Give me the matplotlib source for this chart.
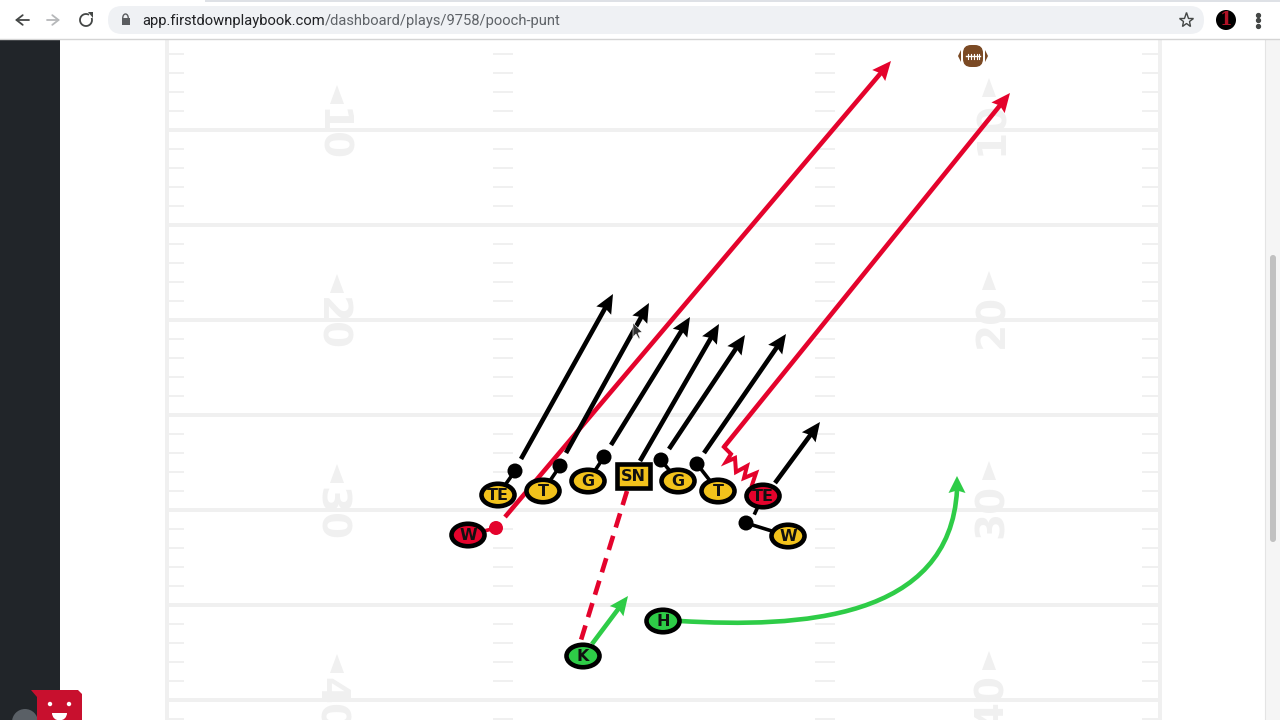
import numpy as np
import matplotlib
matplotlib.use("Agg")
import matplotlib.pyplot as plt
from matplotlib.patches import Ellipse, Rectangle, FancyBboxPatch, Polygon, Circle, Wedge, PathPatch, Arc
from matplotlib.path import Path

# ---- data (in screen pixels) ----
yard_lines = [130, 225, 320, 415, 510, 605, 700]
hash_offsets = [-38, -19, 19, 38]
hash_columns = [(168, 184), (493, 513), (815, 835), (1142, 1158)]
left_number_rows = [135, 324, 514, 704]
right_number_rows = [128, 321, 511, 701]
number_labels = ["10", "20", "30", "40"]

players = ["TE", "T", "G", "G", "T", "TE", "W", "W", "K", "H"]
player_x = [498, 543, 588, 678, 718, 763, 468, 788, 583, 663]
player_y = [495, 491, 481, 481, 491, 496, 535, 536, 656, 621]
player_col = ["y", "y", "y", "y", "y", "r", "r", "y", "g", "g"]
snapper = ("SN", 633, 476)

block_from = [(498, 495), (543, 491), (588, 481), (678, 481), (718, 491), (788, 536)]
block_dots = [(515, 471), (560, 466), (604, 457), (661, 460), (697, 464), (746, 523)]

black_routes = [
    ((521, 459), (613, 294)),
    ((566, 453), (649, 303)),
    ((611, 445), (690, 317)),
    ((640, 461), (719, 324)),
    ((669, 449), (745, 335)),
    ((704, 453), (786, 334)),
    ((775, 483), (820, 422)),
]
red_route_w = ((505, 517), (891, 61))
red_zig_x = [752, 756, 744, 747, 736, 735, 726, 731, 724]
red_zig_y = [485, 473, 478, 466, 472, 458, 462, 454, 447]
red_route_te = ((724, 447), (1010, 93))
kick_line = ((627, 491), (581, 640))
green_short = ((592, 644), (628, 596))
green_curve_ctrl = [(680, 621), (800, 628), (950, 620), (957, 490)]
green_curve_tip = (957, 476)

url_main = "app.firstdownplaybook.com"
url_rest = "/dashboard/plays/9758/pooch-punt"

# ---- styles ----
RED = "#e4032c"
YEL = "#f2c21b"
GRN = "#2ecc47"
FIELD = "#f0f0f0"
fills = {"y": YEL, "r": RED, "g": GRN}
PX = 0.72

fig = plt.figure(figsize=(12.8, 7.2), dpi=100, facecolor="white")
ax = fig.add_axes([0, 0, 1, 1])
ax.set_xlim(0, 1280)
ax.set_ylim(720, 0)
ax.axis("off")


def route(a, b, color, lw=4.6, z=5, head=(19, 8.5)):
    a, b = np.array(a, float), np.array(b, float)
    u = (b - a) / np.hypot(*(b - a))
    n = np.array([-u[1], u[0]])
    L, W = head
    base = b - u * L
    stop = b - u * L * .7
    ax.plot([a[0], stop[0]], [a[1], stop[1]], color=color,
            lw=lw * PX, zorder=z, solid_capstyle="butt")
    ax.add_patch(Polygon([b, base + n * W, b - u * L * .85, base - n * W], closed=True,
                         fc=color, ec="none", zorder=z))


# field
for y in yard_lines:
    ax.plot([165, 1161], [y, y], color=FIELD, lw=4 * PX, zorder=1, solid_capstyle="butt")
for x in (166.5, 1159.5):
    ax.plot([x, x], [39, 720], color=FIELD, lw=4 * PX, zorder=1, solid_capstyle="butt")
for x0, x1 in hash_columns:
    for yl in [35] + yard_lines:
        for off in hash_offsets:
            y = yl + off
            if 39 < y < 720:
                ax.plot([x0, x1], [y, y], color=FIELD, lw=2 * PX, zorder=1, solid_capstyle="butt")
for yl_, yr_, lab in zip(left_number_rows, right_number_rows, number_labels):
    ax.text(330, yl_, lab, rotation=-90, ha="center", va="center", color=FIELD,
            fontsize=28, family="DejaVu Sans", weight="bold", zorder=1)
    ax.text(992, yr_, lab, rotation=90, ha="center", va="center", color=FIELD,
            fontsize=28, family="DejaVu Sans", weight="bold", zorder=1)
    for x_, y_ in ((337, yl_), (989, yr_)):
        ax.add_patch(Polygon([(x_, y_ - 50), (x_ - 7, y_ - 31), (x_ + 7, y_ - 31)], fc=FIELD, ec="none", zorder=1))

# page panels
ax.add_patch(Rectangle((0, 39), 60, 681, fc="#212529", ec="none", zorder=2))
ax.add_patch(Rectangle((1265, 39), 15, 681, fc="#f5f5f5", ec="none", zorder=2))
ax.plot([1265, 1265], [39, 720], color="#e4e4e4", lw=0.8, zorder=2)
ax.add_patch(FancyBboxPatch((1270, 255), 6, 287, boxstyle="round,pad=0,rounding_size=3",
                            fc="#c1c1c1", ec="none", zorder=3))

# routes
route(*red_route_w, RED, z=4)
route(*red_route_te, RED, z=4)
ax.plot(red_zig_x, red_zig_y, color=RED, lw=4 * PX, zorder=4, solid_joinstyle="miter")
ax.plot(*zip(*kick_line), color=RED, lw=4.6 * PX, zorder=4, dashes=(3.2, 1.9))
for a, b in black_routes:
    route(a, b, "black", z=5)
route(*green_short, GRN, z=5)
ax.add_patch(PathPatch(Path(green_curve_ctrl, [Path.MOVETO, Path.CURVE4, Path.CURVE4, Path.CURVE4]),
                       fc="none", ec=GRN, lw=4.6 * PX, zorder=5))
route(green_curve_ctrl[-1], green_curve_tip, GRN, z=5, head=(17, 8.5))

# blocks
for (x0, y0), (x1, y1) in zip(block_from, block_dots):
    ax.plot([x0, x1], [y0, y1], color="black", lw=3.6 * PX, zorder=6)
    ax.add_patch(Circle((x1, y1), 7.5, fc="black", ec="none", zorder=6))
ax.plot([468, 496], [535, 528], color=RED, lw=3.6 * PX, zorder=6)
ax.add_patch(Circle((496, 528), 7, fc=RED, ec="none", zorder=6))
ax.plot([763, 755], [496, 513], color="black", lw=3.6 * PX, zorder=6)

# players
for lab, x, y, c in zip(players, player_x, player_y, player_col):
    ax.add_patch(Ellipse((x, y), 33, 22.5, fc=fills[c], ec="black", lw=4.6 * PX, zorder=7))
    ax.text(x, y + 0.5, lab, ha="center", va="center", fontsize=11.5, weight="bold",
            family="DejaVu Sans", color="#111111", zorder=8)
lab, x, y = snapper
ax.add_patch(Rectangle((x - 16.5, y - 12), 33, 24, fc=YEL, ec="black", lw=4.6 * PX, zorder=7))
ax.text(x, y + 0.5, lab, ha="center", va="center", fontsize=11.5, weight="bold",
        family="DejaVu Sans", color="#111111", zorder=8)

# football
ax.add_patch(FancyBboxPatch((963, 45), 20, 22, boxstyle="round,pad=0,rounding_size=8",
                            fc="#7b4a24", ec="none", zorder=6))
for sx in (-1, 1):
    ax.add_patch(Polygon([(973 + sx * 12, 50), (973 + sx * 15, 56), (973 + sx * 12, 62)],
                         fc="#7b4a24", ec="none", zorder=6))
ax.plot([966, 980], [56, 56], color="white", lw=1, zorder=7)
for lx in (967.5, 970.5, 973.5, 976.5, 979):
    ax.plot([lx, lx], [53.5, 58.5], color="white", lw=0.8, zorder=7)

# cursor
ax.add_patch(Polygon([(633, 323), (633, 337), (636, 334), (639, 339), (640, 338), (638, 333), (642, 332)],
                     fc="#333333", ec="white", lw=0.4, zorder=9))

# chat widget
ax.add_patch(Circle((25, 722), 13, fc="#5a6066", ec="none", zorder=3))
ax.add_patch(Polygon([(31, 690), (78, 690), (82, 694), (82, 720), (37, 720), (37, 697)],
                     fc="#c8102e", ec="none", zorder=4))
for ex in (50, 69):
    ax.add_patch(Circle((ex, 704), 2.2, fc="white", ec="none", zorder=5))
ax.add_patch(Wedge((59.5, 713), 7.5, 0, 180, fc="white", ec="none", zorder=5))

# browser chrome
ax.add_patch(Rectangle((0, 0), 1280, 39, fc="white", ec="none", zorder=10))
ax.add_patch(Rectangle((205, 0), 1075, 2, fc="#dee1e6", ec="none", zorder=11))
ax.plot([0, 1280], [39, 39], color="#d4d4d4", lw=1, zorder=11)
ax.add_patch(FancyBboxPatch((108, 6), 1096, 28, boxstyle="round,pad=0,rounding_size=14",
                            fc="#eff1f4", ec="none", zorder=11))
ax.annotate("", (15, 20), (29, 20), zorder=12,
            arrowprops=dict(arrowstyle="->,head_length=0.45,head_width=0.35", color="#444746", lw=1.3, shrinkA=0, shrinkB=0))
ax.annotate("", (60, 20), (47, 20), zorder=12,
            arrowprops=dict(arrowstyle="->,head_length=0.45,head_width=0.35", color="#b6b8ba", lw=1.3, shrinkA=0, shrinkB=0))
ax.add_patch(Arc((86, 20), 12, 12, theta1=-20, theta2=300, color="#444746", lw=1.3, zorder=12))
ax.add_patch(Polygon([(88, 12), (93, 12), (93, 18)], fc="#444746", ec="none", zorder=12))
ax.add_patch(Rectangle((121.5, 18), 8, 7, fc="#5b5d60", ec="none", zorder=12))
ax.add_patch(Arc((125.5, 18), 5.5, 8, theta1=180, theta2=360, color="#5b5d60", lw=1, zorder=12))
t1 = ax.text(142, 20.5, url_main, ha="left", va="center", fontsize=10.65, family="Roboto",
             color="#202124", zorder=12)
fig.canvas.draw()
bb = t1.get_window_extent().transformed(ax.transData.inverted())
ax.text(bb.x1, 20.5, url_rest, ha="left", va="center", fontsize=10.65, family="Roboto",
        color="#5f6368", zorder=12)
ax.plot([1186], [20], marker="*", ms=11, mfc="none", mec="#444746", mew=1, zorder=12)
ax.add_patch(Circle((1226, 20), 10, fc="black", ec="none", zorder=12))
ax.text(1226, 20, "1", ha="center", va="center", fontsize=13, family="DejaVu Serif", weight="bold",
        color="#b01226", zorder=13)
ax.plot([1258] * 3, [14.5, 20, 25.5], ls="none", marker="o", ms=2.8, color="#444746", zorder=12)

fig.savefig("out.png", dpi=100)
